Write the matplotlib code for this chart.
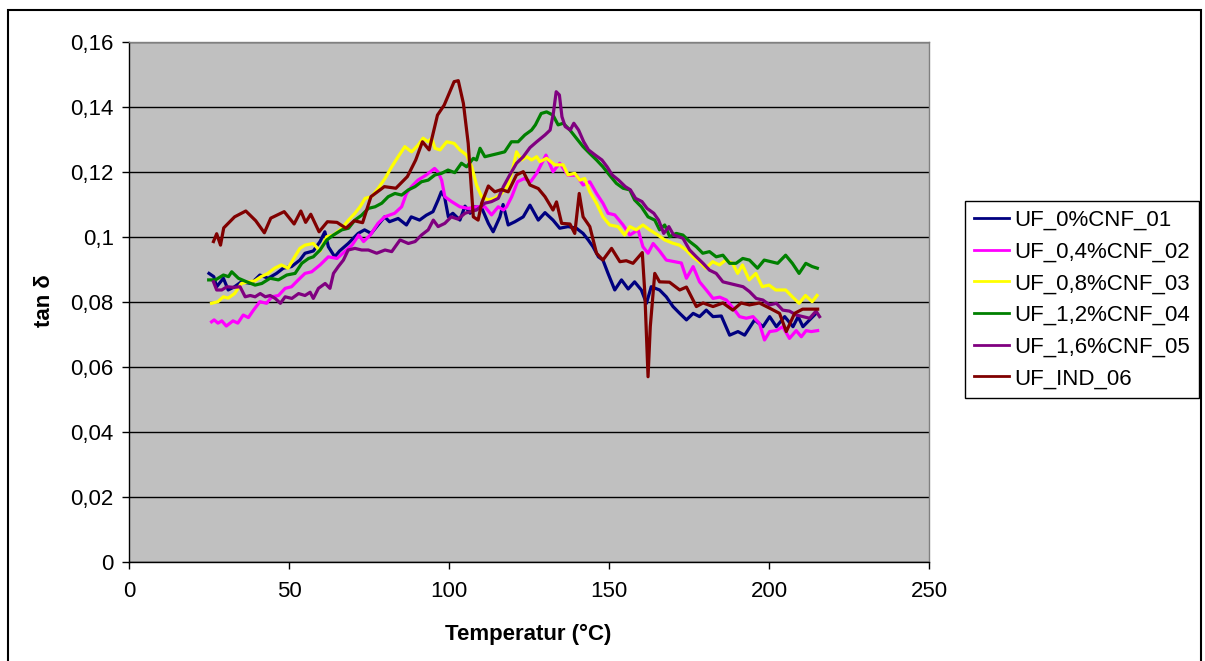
import matplotlib
matplotlib.use('Agg')
import matplotlib.pyplot as plt
from matplotlib.lines import Line2D
from matplotlib.patches import Rectangle
from matplotlib.ticker import FuncFormatter
import numpy as np

# values: temperature (°C) and tan delta per sample
t_0_01 = [25.0, 26.5, 27.4, 29.5, 31.0, 33.0, 35.1, 38.2, 40.9, 43.5, 46.1, 48.2, 50.8, 53.4, 55.0,
          57.6, 59.7, 61.2, 62.3, 64.3, 65.8, 68.5, 71.6, 73.6, 75.7, 77.8, 79.9, 81.4, 84.1, 86.7,
          88.2, 90.8, 92.9, 95.0, 96.6, 97.6, 98.6, 99.8, 101.2, 103.4, 105.0, 106.6, 108.1, 110.2,
          112.3, 113.8, 115.9, 116.9, 118.5, 120.6, 123.2, 125.3, 127.9, 130.0, 132.5, 134.6, 137.2,
          139.8, 141.9, 143.5, 145.0, 146.7, 148.1, 149.7, 151.8, 153.9, 156.0, 158.0, 160.1, 161.7,
          163.2, 165.8, 167.9, 170.0, 172.1, 174.2, 176.3, 178.3, 180.4, 182.5, 185.1, 187.7, 190.3,
          192.4, 195.5, 198.1, 200.2, 202.3, 204.9, 207.5, 209.1, 210.6, 213.2, 214.7]
v_0_01 = [.0888, .0878, .0847, .0873, .0837, .0847, .0862, .0857, .0883, .0873, .0888, .0904, .0909, .0929, .0950,
          .0957, .0986, .1016, .0970, .0939, .0957, .0980, .1011, .1022, .1011, .1037, .1062, .1047, .1057, .1037,
          .1062, .1052, .1067, .1078, .1114, .1139, .1124, .1062, .1073, .1052, .1095, .1073, .1093, .1090,
          .1042, .1016, .1062, .1100, .1037, .1047, .1062, .1098, .1052, .1075, .1052, .1027, .1032,
          .1027, .1011, .0991, .0970, .0939, .0929, .0888, .0837, .0868, .0840, .0862, .0837, .0796,
          .0847, .0837, .0816, .0786, .0765, .0745, .0765, .0755, .0775, .0755, .0757, .0698, .0709,
          .0698, .0745, .0724, .0755, .0724, .0755, .0724, .0755, .0724, .0750, .0765]

t_04_02 = [25.8, 26.6, 27.8, 29.0, 30.4, 32.5, 34.0, 35.7, 37.3, 38.9, 40.9, 43.0, 44.6, 46.7, 48.8,
           50.8, 52.9, 55.0, 57.1, 59.7, 62.3, 65.0, 67.6, 69.7, 71.8, 73.3, 75.4, 77.8, 79.9, 83.0,
           85.2, 86.7, 88.3, 90.3, 92.9, 95.5, 96.5, 97.7, 98.7, 100.8, 103.4, 106.0, 108.6, 111.2,
           113.3, 115.4, 117.0, 118.0, 119.6, 121.4, 123.5, 125.5, 127.4, 130.3, 132.5, 134.6, 137.2,
           139.8, 141.9, 144.0, 146.1, 148.1, 149.7, 151.8, 154.4, 156.5, 159.1, 160.6, 162.2, 163.8,
           165.8, 167.9, 170.5, 172.6, 174.2, 176.3, 178.3, 180.4, 182.5, 184.6, 186.7, 188.8, 190.8,
           192.9, 195.0, 197.0, 198.6, 200.2, 202.3, 204.3, 206.4, 208.5, 210.1, 211.6, 213.2, 215.2]
v_04_02 = [.0739, .0745, .0735, .0742, .0726, .0742, .0735, .0760, .0752, .0775, .0801, .0796, .0816, .0820, .0842,
           .0847, .0868, .0888, .0893, .0914, .0939, .0934, .0957, .0975, .1006, .0986, .1006, .1042, .1062, .1073,
           .1093, .1134, .1155, .1175, .1191, .1211, .1201, .1175, .1124, .1109, .1093, .1088, .1093, .1093,
           .1068, .1093, .1083, .1093, .1124, .1170, .1180, .1170, .1196, .1252, .1201, .1227, .1190,
           .1190, .1160, .1170, .1134, .1104, .1073, .1068, .1037, .1006, .1022, .0970, .0950, .0980,
           .0957, .0929, .0924, .0920, .0873, .0909, .0862, .0837, .0811, .0815, .0806, .0781, .0755,
           .0750, .0755, .0734, .0683, .0709, .0712, .0724, .0688, .0712, .0693, .0712, .0709, .0712]

t_08_03 = [25.8, 27.8, 29.5, 31.0, 33.0, 35.1, 37.2, 39.3, 41.3, 43.4, 45.5, 47.6, 49.7, 51.8, 53.4,
           55.0, 57.6, 59.7, 61.8, 63.9, 66.5, 68.6, 70.6, 72.2, 73.8, 75.8, 77.9, 80.0, 82.1, 84.1,
           86.2, 88.3, 90.4, 91.9, 93.5, 94.6, 95.6, 97.2, 99.3, 101.6, 103.4, 105.5, 107.1, 108.6,
           110.2, 112.3, 114.3, 116.4, 118.5, 120.1, 121.1, 122.7, 124.3, 125.8, 127.4, 128.4, 130.5,
           133.1, 135.7, 137.2, 139.3, 140.9, 142.4, 144.0, 146.1, 148.1, 150.2, 152.8, 154.9, 156.5,
           158.5, 160.6, 162.7, 165.3, 167.4, 169.9, 172.0, 174.1, 176.2, 178.2, 180.3, 182.4, 184.5,
           186.5, 188.6, 190.2, 191.7, 193.8, 195.9, 197.9, 200.0, 202.1, 205.2, 207.3, 209.4, 211.4,
           213.5, 215.0]
v_08_03 = [.0796, .0801, .0816, .0812, .0826, .0857, .0862, .0865, .0878, .0888, .0904, .0914, .0904, .0939, .0965,
           .0975, .0980, .0957, .1001, .1006, .1027, .1052, .1073, .1093, .1119, .1124, .1150, .1180, .1216, .1247,
           .1278, .1262, .1283, .1304, .1293, .1304, .1273, .1268, .1293, .1288, .1268, .1252, .1216, .1160,
           .1124, .1114, .1119, .1134, .1160, .1216, .1262, .1237, .1247, .1237, .1247, .1232, .1242,
           .1222, .1222, .1191, .1196, .1175, .1180, .1139, .1104, .1062, .1037, .1032, .1006, .1032,
           .1022, .1037, .1022, .1006, .0991, .0981, .0975, .0960, .0939, .0924, .0904, .0924, .0914,
           .0929, .0919, .0888, .0914, .0868, .0888, .0847, .0852, .0837, .0837, .0816, .0796, .0820,
           .0801, .0820]

t_12_04 = [24.9, 27.0, 29.5, 31.1, 32.1, 34.2, 36.8, 39.4, 41.5, 44.1, 46.7, 49.3, 51.9, 54.0, 56.1,
           57.6, 59.7, 61.8, 63.9, 66.5, 68.6, 70.6, 72.7, 74.8, 76.9, 79.0, 81.0, 83.1, 85.2, 87.3,
           89.4, 91.4, 93.5, 95.6, 97.7, 99.7, 101.8, 103.9, 105.5, 107.6, 108.6, 109.7, 111.2, 113.3,
           115.4, 117.4, 119.5, 121.6, 123.7, 125.8, 127.0, 128.8, 130.5, 132.5, 134.1, 135.7, 137.8,
           139.8, 141.9, 144.0, 146.1, 148.1, 150.2, 152.3, 154.4, 156.5, 158.0, 160.1, 162.2, 164.3,
           165.8, 167.4, 169.0, 171.0, 173.1, 175.2, 177.3, 179.3, 181.4, 183.5, 185.6, 187.7, 189.7,
           191.8, 193.9, 196.4, 198.5, 200.6, 202.7, 205.2, 207.3, 209.4, 211.5, 213.5, 215.1]
v_12_04 = [.0868, .0868, .0883, .0878, .0893, .0873, .0862, .0852, .0857, .0873, .0868, .0883, .0888, .0919, .0934,
           .0939, .0960, .0991, .1006, .1022, .1027, .1052, .1067, .1088, .1093, .1104, .1124, .1134, .1129, .1145,
           .1155, .1170, .1175, .1191, .1196, .1206, .1198, .1227, .1216, .1242, .1237, .1273, .1247, .1252,
           .1257, .1262, .1293, .1293, .1314, .1329, .1345, .1380, .1385, .1375, .1345, .1350, .1329,
           .1304, .1278, .1257, .1237, .1216, .1190, .1165, .1150, .1145, .1114, .1093, .1062, .1052,
           .1022, .1037, .1001, .1011, .1006, .0986, .0970, .0950, .0955, .0939, .0944, .0919, .0919,
           .0934, .0929, .0904, .0929, .0924, .0919, .0944, .0919, .0888, .0919, .0909, .0904]

t_16_05 = [26.4, 27.4, 29.0, 30.6, 32.7, 34.7, 36.3, 37.9, 39.4, 41.0, 42.6, 44.1, 45.7, 47.3, 48.8,
           50.9, 53.0, 55.0, 56.6, 57.6, 59.2, 61.3, 62.8, 63.9, 65.4, 67.0, 68.5, 70.6, 72.7, 74.8,
           77.4, 80.0, 82.1, 84.7, 87.3, 89.4, 91.4, 93.5, 95.1, 96.6, 98.7, 100.7, 102.8, 105.0,
           106.6, 108.6, 111.2, 113.3, 115.4, 117.0, 119.0, 121.1, 123.2, 125.3, 127.4, 130.0, 131.6,
           132.6, 133.5, 134.5, 135.3, 136.3, 137.9, 139.0, 140.5, 142.1, 143.6, 145.7, 147.8, 149.4,
           151.0, 153.0, 155.1, 156.7, 158.3, 160.3, 161.9, 164.0, 165.5, 167.1, 168.7, 170.2, 171.8,
           173.1, 175.2, 177.3, 179.4, 181.4, 183.5, 185.6, 187.7, 189.8, 191.9, 193.9, 196.0, 198.1,
           200.2, 202.3, 204.3, 206.4, 208.5, 210.6, 212.7, 214.7, 215.8]
v_16_05 = [.0862, .0837, .0837, .0847, .0845, .0847, .0816, .0820, .0816, .0826, .0816, .0820, .0811, .0796, .0816,
           .0811, .0826, .0820, .0830, .0811, .0842, .0857, .0842, .0888, .0909, .0929, .0960, .0965, .0960, .0960,
           .0950, .0960, .0955, .0991, .0980, .0986, .1006, .1022, .1052, .1032, .1042, .1062, .1055, .1073,
           .1078, .1083, .1104, .1109, .1119, .1155, .1191, .1227, .1247, .1275, .1293, .1314, .1329,
           .1380, .1447, .1437, .1370, .1340, .1329, .1350, .1329, .1293, .1268, .1252, .1237, .1216,
           .1191, .1175, .1155, .1145, .1119, .1109, .1088, .1073, .1052, .1011, .1032, .1006, .1001,
           .0996, .0960, .0939, .0919, .0898, .0888, .0862, .0857, .0852, .0847, .0832, .0811, .0806,
           .0791, .0796, .0775, .0772, .0760, .0755, .0750, .0772, .0755]

t_ind_06 = [26.4, 27.4, 28.6, 29.6, 33.0, 36.5, 39.6, 42.3, 44.3, 48.5, 51.6, 53.7, 55.2, 56.8, 59.4,
            62.0, 65.0, 67.8, 70.4, 73.0, 75.6, 79.8, 83.4, 87.0, 89.6, 91.7, 93.8, 96.4, 98.5, 101.6,
            102.9, 104.5, 106.0, 107.6, 109.1, 110.2, 112.3, 114.3, 116.4, 118.5, 121.1, 123.2, 125.3,
            127.9, 130.0, 132.5, 133.6, 135.2, 137.8, 139.3, 140.7, 141.9, 144.0, 146.1, 148.1, 150.8,
            153.4, 155.4, 157.5, 160.4, 161.2, 162.2, 162.9, 164.3, 165.8, 168.9, 172.1, 174.2, 177.3,
            179.4, 182.5, 185.6, 188.7, 191.3, 193.9, 197.0, 200.2, 203.3, 205.4, 208.0, 210.5, 215.2]
v_ind_06 = [.0986, .1010, .0975, .1028, .1062, .1080, .1050, .1013, .1058, .1078, .1040, .1080, .1045, .1070, .1016,
            .1047, .1045, .1027, .1050, .1044, .1124, .1155, .1150, .1186, .1237, .1293, .1268, .1375, .1406, .1478,
            .1481, .1411, .1288, .1062, .1052, .1104, .1157, .1139, .1146, .1139, .1191, .1201, .1160,
            .1149, .1124, .1083, .1108, .1042, .1040, .1011, .1134, .1062, .1032, .0950, .0929, .0965,
            .0924, .0927, .0919, .0952, .0827, .0570, .0724, .0888, .0862, .0861, .0837, .0846, .0786,
            .0797, .0786, .0797, .0775, .0797, .0791, .0797, .0781, .0765, .0709, .0765, .0778, .0778]

series_names = ['UF_0%CNF_01', 'UF_0,4%CNF_02', 'UF_0,8%CNF_03',
                'UF_1,2%CNF_04', 'UF_1,6%CNF_05', 'UF_IND_06']
series_colors = ['#000080', '#FF00FF', '#FFFF00', '#008000', '#800080', '#800000']

W, H = 1205, 661


def comma_fmt(v, pos):
    # Excel style decimal comma
    return ('%g' % round(v, 4)).replace('.', ',')


plt.rcParams['font.family'] = ['Liberation Sans', 'DejaVu Sans']
fs = 16

fig = plt.figure(figsize=(W / 100, H / 100), dpi=100)
ax = fig.add_axes([129 / W, 1 - 562 / H, 800 / W, 520 / H])
ax.set_facecolor('#C0C0C0')

all_t = [t_0_01, t_04_02, t_08_03, t_12_04, t_16_05, t_ind_06]
all_v = [v_0_01, v_04_02, v_08_03, v_12_04, v_16_05, v_ind_06]
for t, v, c in zip(all_t, all_v, series_colors):
    ax.plot(t, v, color=c, lw=2.3, solid_joinstyle='round', zorder=3)

ax.set_xlim(0, 250)
ax.set_ylim(0, 0.16)
ax.set_xticks(np.arange(0, 251, 50))
ax.set_yticks(np.arange(0, 0.161, 0.02))
ax.yaxis.set_major_formatter(FuncFormatter(comma_fmt))
ax.yaxis.grid(True, color='black', lw=1.0)
ax.set_axisbelow(True)

ax.spines['left'].set_color('black')
ax.spines['bottom'].set_color('black')
ax.spines['top'].set_color('#808080')
ax.spines['right'].set_color('#808080')
for s in ax.spines.values():
    s.set_linewidth(1.0)
ax.tick_params(direction='out', length=5, width=1, labelsize=fs, pad=6)
ax.tick_params(axis='x', pad=9)

fig.text(45 / W, 1 - 301 / H, 'tan δ', rotation=90, ha='center', va='center',
         fontsize=fs, fontweight='bold')
fig.text(528 / W, 1 - 634 / H, 'Temperatur (°C)', ha='center', va='center',
         fontsize=fs, fontweight='bold')

# legend on the right
handles = [Line2D([], [], color=c, lw=2.0) for c in series_colors]
leg = fig.legend(handles, series_names, loc='upper left',
                 bbox_to_anchor=(965 / W, 1 - 201 / H), fontsize=fs,
                 frameon=True, fancybox=False, edgecolor='black', framealpha=1,
                 borderaxespad=0, borderpad=0.4, handlelength=1.6,
                 handletextpad=0.2, labelspacing=0.48)
leg.get_frame().set_linewidth(1.0)

# outer chart border
fig.patches.append(Rectangle((8 / W, -0.02), (1201 - 8) / W, 1 - 10 / H + 0.02,
                             transform=fig.transFigure, fill=False,
                             edgecolor='black', lw=1.5))

fig.savefig('out.png', dpi=100)
